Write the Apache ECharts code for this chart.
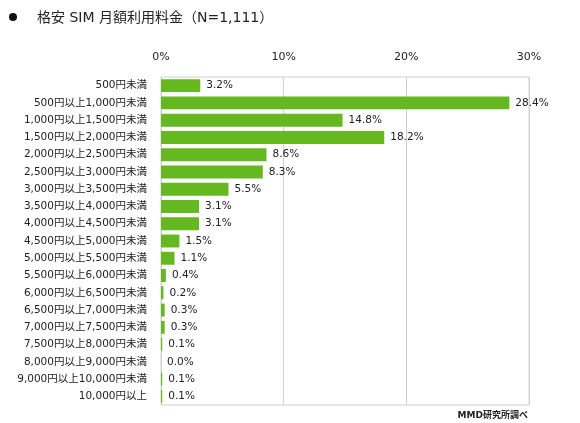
<!DOCTYPE html>
<html>
<head>
<meta charset="utf-8">
<script src="https://cdn.jsdelivr.net/npm/echarts@6/dist/echarts.min.js"></script>
<style>
  html, body { margin: 0; padding: 0; background: #fff; }
  #chart { width: 580px; height: 423px; }
</style>
</head>
<body>
<div id="chart"></div>
<script>
// 料金帯
var categories = [
    '500円未満', '500円以上1,000円未満', '1,000円以上1,500円未満', '1,500円以上2,000円未満',
    '2,000円以上2,500円未満', '2,500円以上3,000円未満', '3,000円以上3,500円未満', '3,500円以上4,000円未満',
    '4,000円以上4,500円未満', '4,500円以上5,000円未満', '5,000円以上5,500円未満', '5,500円以上6,000円未満',
    '6,000円以上6,500円未満', '6,500円以上7,000円未満', '7,000円以上7,500円未満', '7,500円以上8,000円未満',
    '8,000円以上9,000円未満', '9,000円以上10,000円未満', '10,000円以上'
];
// 割合（%）
var values = [3.2, 28.4, 14.8, 18.2, 8.6, 8.3, 5.5, 3.1, 3.1, 1.5, 1.1, 0.4, 0.2, 0.3, 0.3, 0.1, 0.0, 0.1, 0.1];
var axisTicks = [0, 10, 20, 30];

var font = '"DejaVu Sans", "Noto Sans CJK JP", sans-serif';
var myChart = echarts.init(document.getElementById('chart'));

var option = {
    animation: false,
    textStyle: { fontFamily: font },
    title: {
        text: '格安 SIM 月額利用料金（N=1,111）',
        left: 32,
        top: 6,
        textStyle: { fontSize: 14, fontWeight: 'normal', color: '#222', fontFamily: font }
    },
    graphic: [{
        type: 'circle',
        shape: { cx: 13, cy: 17, r: 4 },
        style: { fill: '#111' }
    }, {
        type: 'text',
        right: 52,
        bottom: 3,
        style: { text: 'MMD研究所調べ', fontSize: 9, fontWeight: 'bold', fill: '#222', fontFamily: font }
    }],
    grid: {
        left: 161,
        right: 51,
        top: 77,
        bottom: 18,
        show: true,
        borderColor: '#d0d0d0',
        borderWidth: 1,
        containLabel: false
    },
    xAxis: {
        type: 'value',
        position: 'top',
        min: axisTicks[0],
        max: axisTicks[axisTicks.length - 1],
        interval: 10,
        axisLine: { show: false },
        axisTick: { show: false },
        axisLabel: { formatter: '{value}%', fontSize: 11, color: '#222', margin: 14, fontFamily: font },
        splitLine: { show: true, lineStyle: { color: '#d0d0d0', width: 1 } }
    },
    yAxis: {
        type: 'category',
        data: categories,
        inverse: true,
        axisLine: { show: false },
        axisTick: { show: false },
        axisLabel: { fontSize: 10.5, color: '#222', margin: 14, fontFamily: font },
        splitLine: { show: false }
    },
    series: [{
        type: 'bar',
        data: values,
        barCategoryGap: '25%',
        itemStyle: { color: '#66b821' },
        label: {
            show: true,
            position: 'right',
            distance: 6,
            formatter: function (p) { return p.value.toFixed(1) + '%'; },
            fontSize: 10.5,
            color: '#222',
            fontFamily: font
        }
    }]
};

myChart.setOption(option);
window.addEventListener('resize', function () {
    myChart.resize();
});
</script>
</body>
</html>
